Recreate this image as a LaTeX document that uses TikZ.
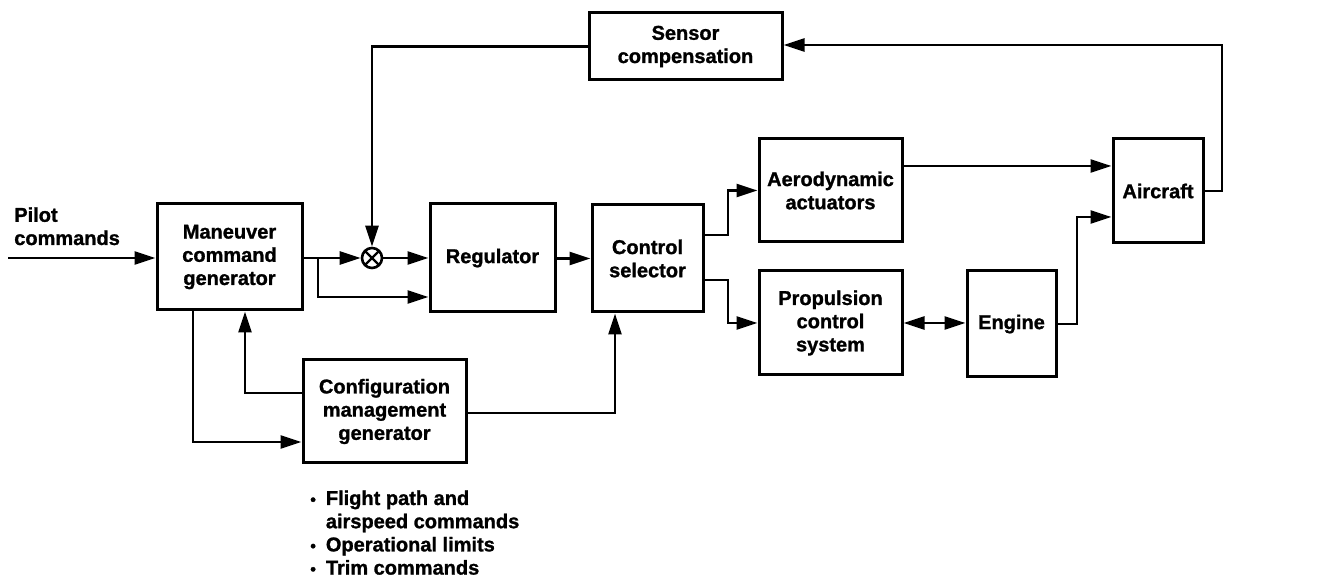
\documentclass[tikz,border=0pt]{standalone}
\usepackage{fontspec}
\setmainfont{Liberation Sans}[BoldFeatures={FakeBold=1.2}]
\usepackage{tikz}
\usetikzlibrary{arrows.meta,positioning}

\begin{document}
\begin{tikzpicture}[x=0.5pt,y=-0.5pt,>={Triangle[length=10.5pt,width=6.5pt]},
                    line width=1.3pt,
                    font=\fontsize{10}{11.6}\selectfont\bfseries]
  \tikzstyle{block}=[draw,fill=white,align=center,inner sep=2pt,line width=1.5pt]
  \tikzstyle{sumjct}=[draw,circle,minimum size=10pt,inner sep=0pt,
     path picture={\draw[line width=1.2pt]
       (path picture bounding box.north west) -- (path picture bounding box.south east)
       (path picture bounding box.north east) -- (path picture bounding box.south west);}]
  \useasboundingbox (0,0) rectangle (1328,581);

  % blocks
  \node[block,minimum width=72.5pt,minimum height=53pt]   (man)  at (229.5,257)  {Maneuver\\command\\generator};
  \node[block,minimum width=62.5pt,minimum height=54pt]   (reg)  at (492.5,258)  {Regulator};
  \node[block,minimum width=55.5pt,minimum height=53.5pt] (sel)  at (647.5,258.5){Control\\selector};
  \node[block,minimum width=71.5pt,minimum height=51.5pt] (aero) at (830.5,190.5){Aerodynamic\\actuators};
  \node[block,minimum width=71.5pt,minimum height=52pt]   (prop) at (830.5,323)  {Propulsion\\control\\system};
  \node[block,minimum width=44.5pt,minimum height=53pt]   (eng)  at (1011.5,324) {Engine};
  \node[block,minimum width=45pt,minimum height=52pt]     (air)  at (1158,191)   {Aircraft};
  \node[block,minimum width=96.5pt,minimum height=33.5pt] (sens) at (685.5,46.5) {Sensor\\compensation};
  \node[block,minimum width=81.5pt,minimum height=51.5pt] (conf) at (384.5,411.5){Configuration\\management\\generator};
  \node[sumjct] (sum) at (372,258) {};

  % texts
  \node[align=left,inner sep=0pt,anchor=north west] (pilottxt) at (13,206) {Pilot\\commands};
  \node[inner sep=0pt,anchor=base west] (notes) at (309,505)
    {\begin{tabular}[t]{@{}l@{\hspace{5pt}}l@{}}
       {\footnotesize\textbullet} & Flight path and\\
                                  & airspeed commands\\
       {\footnotesize\textbullet} & Operational limits\\
       {\footnotesize\textbullet} & Trim commands
     \end{tabular}};

  % bends
  \coordinate (pilot) at (8,258);
  \coordinate (br1) at (318,258);
  \coordinate (br2) at (318,297);
  \coordinate (s1) at (728,235);
  \coordinate (s2) at (728,280);
  \coordinate (e1) at (1077,217);
  \coordinate (fb) at (1222,45);
  \coordinate (m1) at (193,442);
  \coordinate (c1) at (245,393);
  \coordinate (c2) at (615,413);

  % connectors
  \draw[->] (pilot) -- (man.west |- pilot);
  \draw[->] (man.east |- br1) -- (sum.west);
  \draw[->] (br1) -- (br2) -- (reg.west |- br2);
  \draw[->] (sum.east) -- (reg.west |- sum.east);
  \draw[->] (sens.west) -| (sum.north);
  \draw[->] (reg.east |- sel) -- (sel.west);
  \draw[->] (sel.east |- s1) -- (s1) |- (aero.west);
  \draw[->] (sel.east |- s2) -- (s2) |- (prop.west);
  \draw[->] ([yshift=12.25pt]aero.east) -- ([yshift=12.25pt]aero.east -| air.west);
  \draw[<->] (prop.east) -- (eng.west |- prop.east);
  \draw[->] (eng.east) -| (e1) -- (air.west |- e1);
  \draw[->] (air.east) -| (fb) -- (sens.east |- fb);
  \draw[->] (man.south -| m1) -- (m1) -- (conf.west |- m1);
  \draw[->] (conf.west |- c1) -- (c1) -- (man.south -| c1);
  \draw[->] (conf.east |- c2) -- (c2) -- (sel.south -| c2);
\end{tikzpicture}
\end{document}
